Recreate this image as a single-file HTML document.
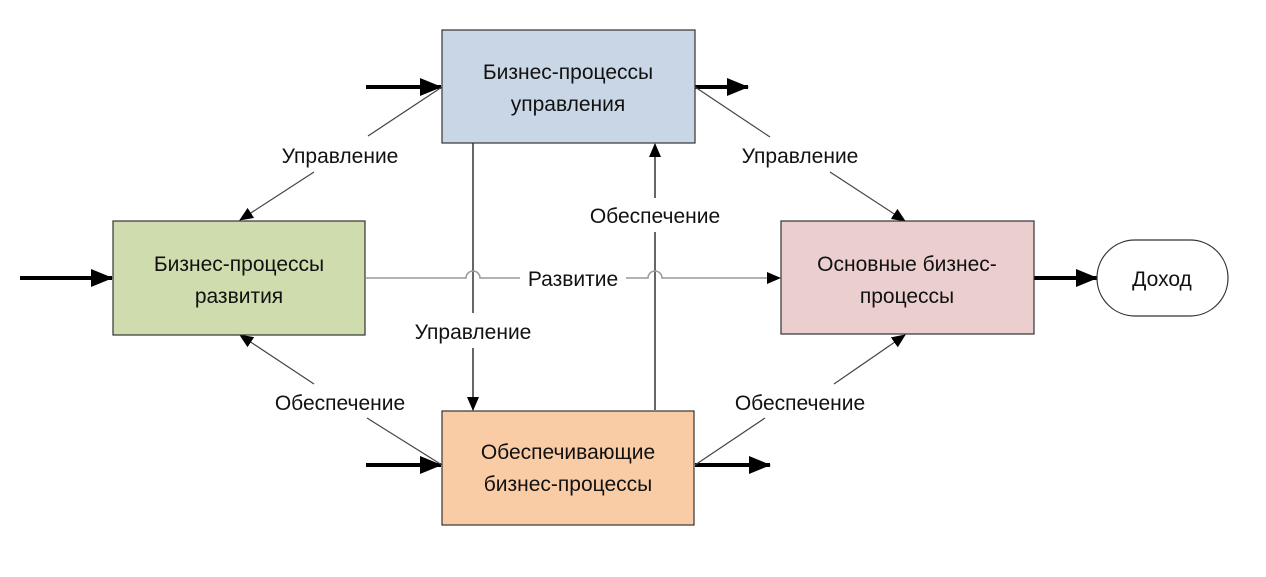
<!DOCTYPE html>
<html><head><meta charset="utf-8"><style>
html,body{margin:0;padding:0;background:#fff;}
svg{display:block;}
text{font-family:"Liberation Sans",sans-serif;font-size:21px;fill:#111;}
</style></head><body>
<svg width="1266" height="577" viewBox="0 0 1266 577">
<defs>
<marker id="a" markerWidth="14" markerHeight="12" refX="13" refY="6" orient="auto" markerUnits="userSpaceOnUse"><path d="M0,0 L14,6 L0,12 z" fill="#000"/></marker>
<marker id="b" markerWidth="22" markerHeight="18" refX="21" refY="9" orient="auto" markerUnits="userSpaceOnUse"><path d="M0,0 L22,9 L0,18 z" fill="#000"/></marker>
</defs>
<g stroke="#000" stroke-width="4" fill="none">
<line x1="366" y1="87" x2="441" y2="87" marker-end="url(#b)"/>
<line x1="695" y1="87" x2="748" y2="87" marker-end="url(#b)"/>
<line x1="20" y1="278" x2="112" y2="278" marker-end="url(#b)"/>
<line x1="1034" y1="278" x2="1097" y2="278" marker-end="url(#b)"/>
<line x1="366" y1="465" x2="441" y2="465" marker-end="url(#b)"/>
<line x1="695" y1="465" x2="770" y2="465" marker-end="url(#b)"/>
</g>
<g stroke="#444" stroke-width="1.2" fill="none">
<line x1="442" y1="87" x2="368" y2="136"/>
<line x1="314" y1="172" x2="240" y2="220" marker-end="url(#a)"/>
<line x1="695" y1="87" x2="770" y2="137"/>
<line x1="830" y1="172" x2="905" y2="221" marker-end="url(#a)"/>
<line x1="442" y1="465" x2="367" y2="418"/>
<line x1="314" y1="384" x2="240" y2="335" marker-end="url(#a)"/>
<line x1="695" y1="465" x2="765" y2="418"/>
<line x1="834" y1="384" x2="905" y2="335" marker-end="url(#a)"/>
</g>
<g stroke="#000" stroke-width="1.2" fill="none">
<line x1="473" y1="143" x2="473" y2="313"/>
<line x1="473" y1="348" x2="473" y2="410" marker-end="url(#a)"/>
<line x1="655" y1="410" x2="655" y2="232"/>
<line x1="655" y1="198" x2="655" y2="144" marker-end="url(#a)"/>
</g>
<path d="M366,278 H466 a7,7 0 0 1 14,0 H520 M626,278 H648 a7,7 0 0 1 14,0 H779" stroke="#999" stroke-width="1.5" fill="none"/>
<path d="M767,272 L781,278 L767,284 z" fill="#000"/>
<rect x="442" y="30" width="253" height="113" fill="#c9d6e5" stroke="#333" stroke-width="1.2"/>
<rect x="113" y="221" width="252" height="114" fill="#cfdcae" stroke="#333" stroke-width="1.2"/>
<rect x="781" y="221" width="253" height="113" fill="#ebcfce" stroke="#333" stroke-width="1.2"/>
<rect x="442" y="411" width="252" height="114" fill="#f9cca6" stroke="#333" stroke-width="1.2"/>
<rect x="1097" y="240" width="131" height="76" rx="38" fill="#fff" stroke="#333" stroke-width="1.2"/>
<g text-anchor="middle">
<text x="568" y="79">Бизнес-процессы</text>
<text x="568" y="111">управления</text>
<text x="239" y="271">Бизнес-процессы</text>
<text x="239" y="303">развития</text>
<text x="907" y="271">Основные бизнес-</text>
<text x="907" y="303">процессы</text>
<text x="568" y="459">Обеспечивающие</text>
<text x="568" y="491">бизнес-процессы</text>
<text x="1162" y="286">Доход</text>
<text x="340" y="163">Управление</text>
<text x="800" y="163">Управление</text>
<text x="340" y="410">Обеспечение</text>
<text x="800" y="410">Обеспечение</text>
<text x="473" y="339">Управление</text>
<text x="655" y="223">Обеспечение</text>
<text x="573" y="286">Развитие</text>
</g>
</svg>
</body></html>
